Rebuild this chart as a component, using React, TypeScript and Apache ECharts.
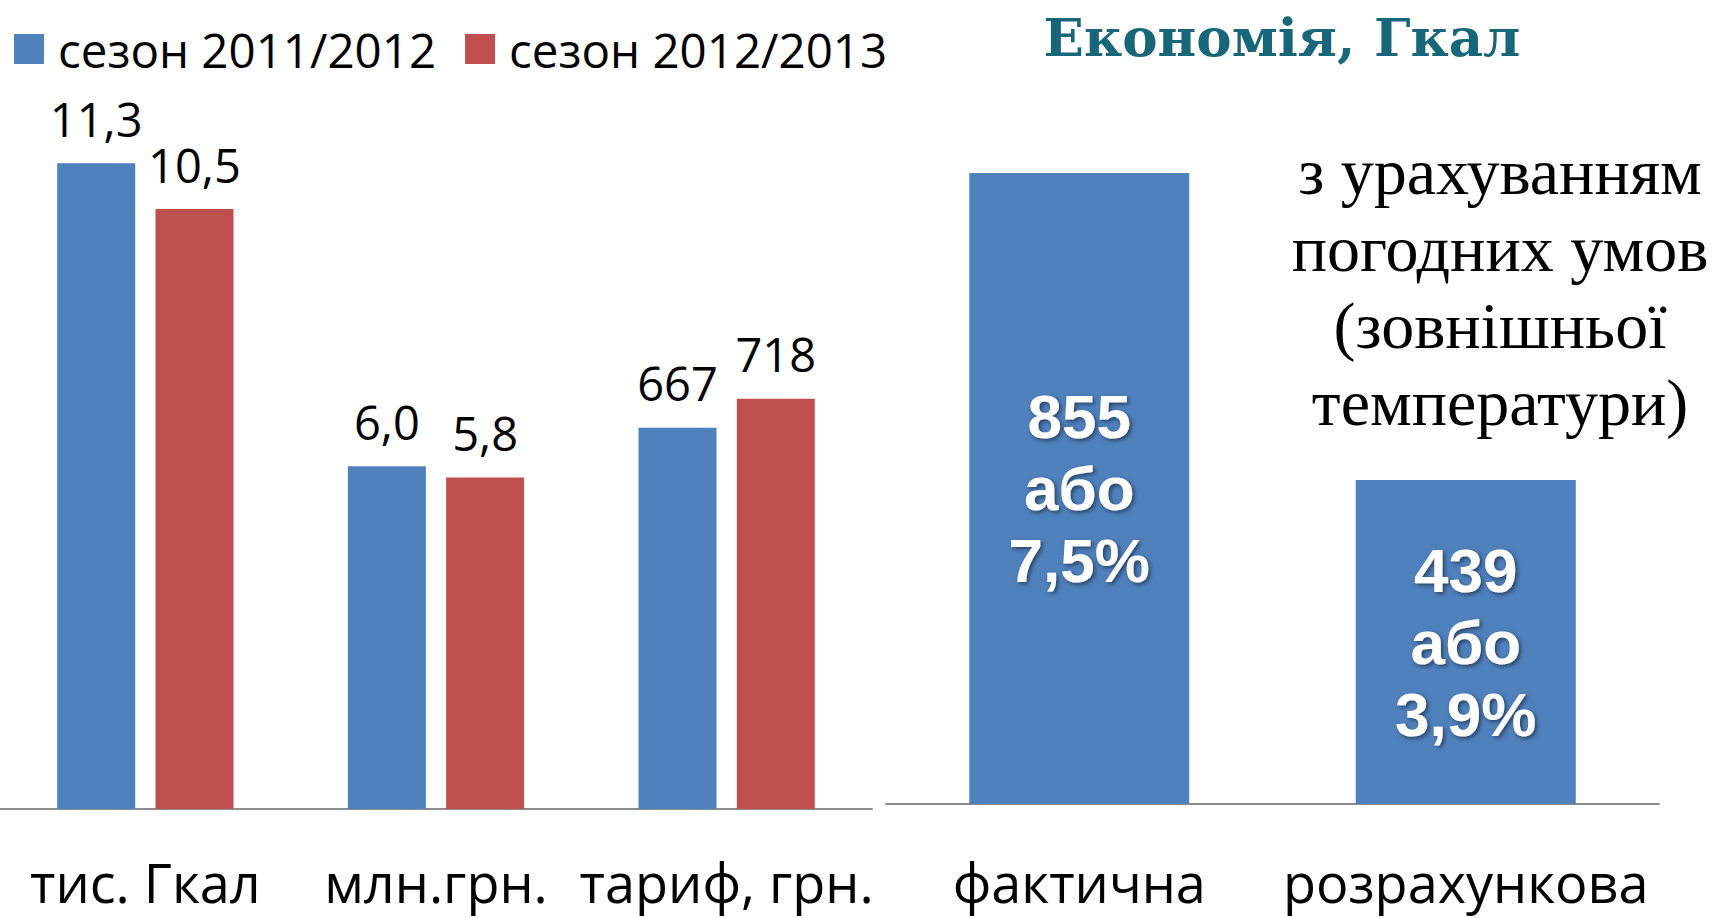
import React, { useEffect, useRef } from "react";
import * as echarts from "echarts";

const categories = ["тис. Гкал", "млн.грн.", "тариф, грн."];
const seasonNames = ["сезон 2011/2012", "сезон 2012/2013"];
// tariff is plotted in hundreds of UAH so it shares the axis with the other two
const season1Values = [11.3, 6.0, 6.67];
const season2Values = [10.5, 5.8, 7.18];
const season1Labels = ["11,3", "6,0", "667"];
const season2Labels = ["10,5", "5,8", "718"];

const savingTitle = "Економія, Гкал";
const savingCategories = ["фактична", "розрахункова"];
const savingValues = [855, 439];
const savingPercents = ["7,5%", "3,9%"];
const noteLines = ["з урахуванням", "погодних умов", "(зовнішньої", "температури)"];

const BLUE = "#4F81BD";
const RED = "#C0504D";
const AXIS = "#8c8c8c";

export default function App() {
  const ref = useRef<HTMLDivElement>(null);
  useEffect(() => {
    if (!ref.current) return;
    const chart = echarts.init(ref.current, null, { renderer: "svg" });
    const sansLabel = {
      fontFamily: "Open Sans",
      fontSize: 47,
      color: "#000",
    };
    chart.setOption({
      animation: false,
      backgroundColor: "#ffffff",
      legend: {
        data: seasonNames,
        left: 14,
        top: 25,
        padding: 0,
        itemWidth: 30,
        itemHeight: 30,
        itemGap: 29,
        icon: "rect",
        textStyle: { fontFamily: "Open Sans", fontSize: 47.5, color: "#000", padding: [0, 0, 0, 9] },
      },
      grid: [
        { left: -6, width: 878, top: 9, height: 800 },
        { left: 886, width: 773, top: 66, height: 738 },
      ],
      xAxis: [
        {
          type: "category",
          gridIndex: 0,
          data: categories,
          axisLine: { lineStyle: { color: AXIS, width: 2 } },
          axisTick: { show: false },
          axisLabel: { fontFamily: "Open Sans", fontSize: 54, lineHeight: 56, color: "#000", margin: 45, interval: 0 },
        },
        {
          type: "category",
          gridIndex: 1,
          data: savingCategories,
          axisLine: { lineStyle: { color: AXIS, width: 2 } },
          axisTick: { show: false },
          axisLabel: { fontFamily: "Open Sans", fontSize: 54, lineHeight: 56, color: "#000", margin: 50, interval: 0 },
        },
      ],
      yAxis: [
        { type: "value", gridIndex: 0, min: 0, max: 14, show: false, splitLine: { show: false } },
        { type: "value", gridIndex: 1, min: 0, max: 1000, show: false, splitLine: { show: false } },
      ],
      series: [
        {
          name: seasonNames[0],
          type: "bar",
          xAxisIndex: 0,
          yAxisIndex: 0,
          data: season1Values,
          barWidth: 78,
          barGap: "26%",
          itemStyle: { color: BLUE },
          label: {
            show: true,
            position: "top",
            distance: 21,
            ...sansLabel,
            formatter: (p: any) => season1Labels[p.dataIndex],
          },
        },
        {
          name: seasonNames[1],
          type: "bar",
          xAxisIndex: 0,
          yAxisIndex: 0,
          data: season2Values,
          barWidth: 78,
          barGap: "26%",
          itemStyle: { color: RED },
          label: {
            show: true,
            position: "top",
            distance: 21,
            ...sansLabel,
            formatter: (p: any) => season2Labels[p.dataIndex],
          },
        },
        {
          name: "saving",
          type: "bar",
          xAxisIndex: 1,
          yAxisIndex: 1,
          data: savingValues,
          barWidth: 220,
          itemStyle: { color: BLUE },
          label: {
            show: true,
            position: "inside",
            fontFamily: "Liberation Sans",
            fontWeight: "bold",
            fontSize: 62,
            lineHeight: 72,
            color: "#fff",
            textShadowColor: "rgba(0,0,0,0.5)",
            textShadowBlur: 4,
            textShadowOffsetX: 2,
            textShadowOffsetY: 2,
            formatter: (p: any) => `${savingValues[p.dataIndex]}\nабо\n${savingPercents[p.dataIndex]}`,
          },
        },
      ],
      graphic: [
        {
          type: "text",
          x: 1282,
          y: 37,
          style: {
            text: savingTitle,
            font: "bold 53px 'DejaVu Serif'",
            fill: "#17667A",
            align: "center",
            verticalAlign: "middle",
            textAlign: "center",
            textVerticalAlign: "middle",
          },
        },
        {
          type: "text",
          x: 1500,
          y: 287,
          style: {
            text: noteLines.join("\n"),
            font: "66px 'Liberation Serif'",
            fill: "#000",
            lineHeight: 77,
            align: "center",
            verticalAlign: "middle",
            textAlign: "center",
            textVerticalAlign: "middle",
          },
        },
      ],
    });
    return () => chart.dispose();
  }, []);
  return (
    <div
      ref={ref}
      style={{ position: "fixed", left: 0, top: 0, width: 1719, height: 918 }}
    />
  );
}
